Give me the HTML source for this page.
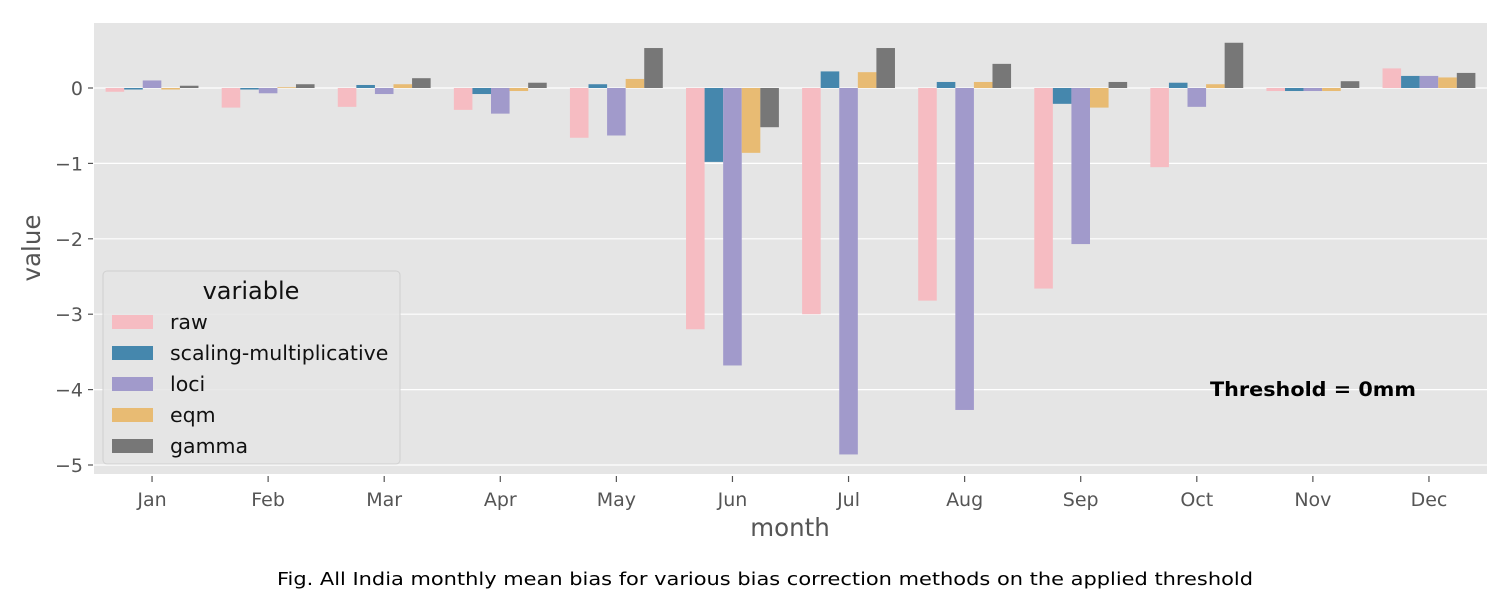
<!DOCTYPE html>
<html><head><meta charset="utf-8"><style>
body{margin:0;background:#fff;}
svg{display:block;font-family:"DejaVu Sans","Liberation Sans",sans-serif;}
</style></head><body>
<svg id="chart" width="1511" height="606">
<rect x="94" y="23" width="1393" height="451" fill="#e5e5e5"/>
<g id="grid"></g><g id="bars"></g><g id="axes"></g>
<text x="790" y="536" font-size="24.5" fill="#555" text-anchor="middle">month</text>
<text x="0" y="0" font-size="24.5" fill="#555" text-anchor="middle" transform="translate(40,248) rotate(-90)">value</text>
<text x="1210" y="396" font-size="19.5" font-weight="bold" fill="#000" textLength="206" lengthAdjust="spacingAndGlyphs">Threshold = 0mm</text>
<text x="277" y="585" font-size="18" fill="#000" textLength="976" lengthAdjust="spacingAndGlyphs">Fig. All India monthly mean bias for various bias correction methods on the applied threshold</text>
<g>
<rect x="103" y="271" width="297" height="193" rx="4" fill="#e5e5e5" fill-opacity="0.85" stroke="#d0d0d0"/>
<text x="251" y="299" font-size="24" text-anchor="middle" fill="#111">variable</text>
<g id="legend-entries"></g>
</g>
</svg>
<script>
const months=["Jan","Feb","Mar","Apr","May","Jun","Jul","Aug","Sep","Oct","Nov","Dec"];
const seriesNames=["raw","scaling-multiplicative","loci","eqm","gamma"];
const colors=["#f6bcc2","#4587ad","#a19acb","#e8bb73","#777777"];
const raw=[-0.05,-0.26,-0.25,-0.29,-0.66,-3.2,-3.0,-2.82,-2.66,-1.05,-0.04,0.26];
const scalingMult=[-0.02,-0.02,0.04,-0.08,0.05,-0.98,0.22,0.08,-0.21,0.07,-0.04,0.16];
const loci=[0.10,-0.07,-0.08,-0.34,-0.63,-3.68,-4.86,-4.27,-2.07,-0.25,-0.04,0.16];
const eqm=[-0.02,0.01,0.05,-0.04,0.12,-0.86,0.21,0.08,-0.26,0.05,-0.04,0.14];
const gamma=[0.03,0.05,0.13,0.07,0.53,-0.52,0.53,0.32,0.08,0.6,0.09,0.2];
const yTicks=[0,-1,-2,-3,-4,-5];
const series=[raw,scalingMult,loci,eqm,gamma];
const NS="http://www.w3.org/2000/svg";
const L=94,R=1487,T=23,B=474;
const cw=(R-L)/months.length;
const y=v=>88+(0-v)*75.4;
const xc=i=>L+cw*(i+0.5);
const bw=cw*0.8/series.length;
function mk(tag,attrs,parent){const e=document.createElementNS(NS,tag);for(const k in attrs)e.setAttribute(k,attrs[k]);parent.appendChild(e);return e;}
const grid=document.getElementById('grid'),bars=document.getElementById('bars'),axes=document.getElementById('axes'),leg=document.getElementById('legend-entries');
yTicks.forEach(t=>{
 const g=mk('line',{x1:L,x2:R,y1:y(t),y2:y(t),stroke:'#fff','stroke-width':1.2},grid);
 
 
 const tk=mk('line',{x1:L-6,x2:L-1,y1:y(t),y2:y(t),stroke:'#555','stroke-width':1.2},axes);
 
 
 const tx=mk('text',{x:L-11,y:y(t)+7,'font-size':19,fill:'#555','text-anchor':'end'},axes);
 tx.textContent=t===0?'0':'\u2212'+Math.abs(t);
 
 
});
months.forEach((m,i)=>{
 const tk=mk('line',{x1:xc(i),x2:xc(i),y1:B+2,y2:B+8,stroke:'#555','stroke-width':1.2},axes);
 
 
 const tx=mk('text',{x:xc(i),y:B+32,'font-size':19,fill:'#555','text-anchor':'middle'},axes);
 tx.textContent=m;
 
 
 series.forEach((s,j)=>{
  const v=s[i],x0=xc(i)-cw*0.4+j*bw;
  const r=mk('rect',{x:x0,width:bw,y:Math.min(y(v),y(0)),height:Math.max(Math.abs(y(v)-y(0)),0.8),fill:colors[j]},bars);
  
  
 });
});
seriesNames.forEach((n,j)=>{
 const cy=322+j*31;
 const p=mk('rect',{x:112,y:cy-7,width:41,height:14,fill:colors[j]},leg);
 
 
 const t=mk('text',{x:170,y:cy+7,'font-size':20.5,fill:'#111'},leg);
 t.textContent=n;
 
 
});
</script>
</body></html>
